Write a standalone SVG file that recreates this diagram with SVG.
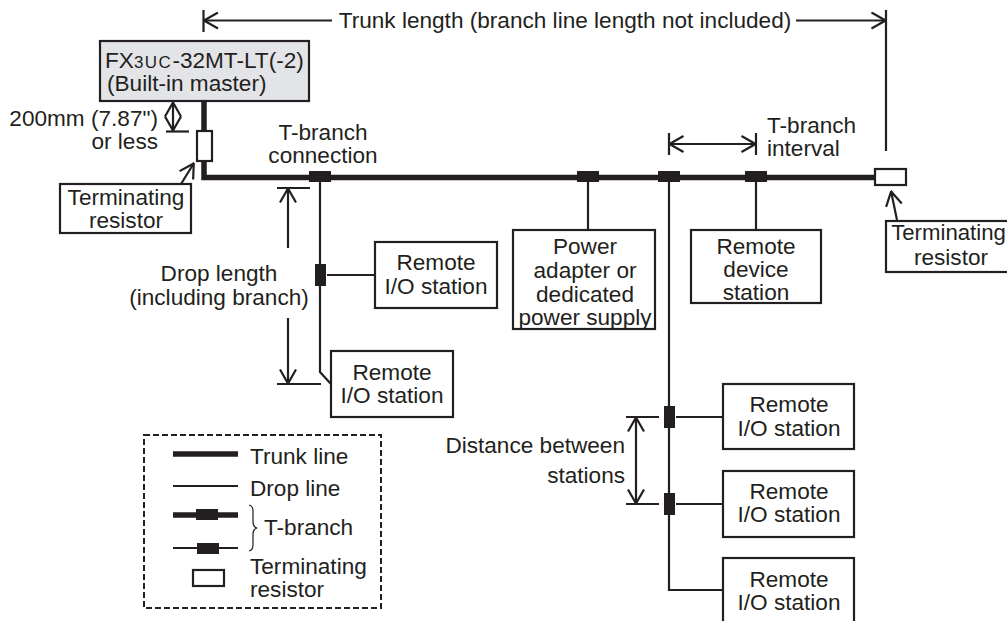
<svg xmlns="http://www.w3.org/2000/svg" width="1007" height="621" viewBox="0 0 1007 621">
<style>
text{font-family:"Liberation Sans",Arial,sans-serif;font-size:22.6px;fill:#231f20;text-anchor:middle}
.s{text-anchor:start}
.e{text-anchor:end}
.box{fill:#fff;stroke:#231f20;stroke-width:2.2}
.l{fill:none;stroke:#231f20;stroke-width:2.2}
.d{fill:none;stroke:#231f20;stroke-width:2.2}
.t{fill:none;stroke:#231f20;stroke-width:5.5}
.tee{fill:#231f20}
</style>
<defs>
<marker id="a" viewBox="0 0 16 18" refX="15.500" refY="9" markerWidth="16" markerHeight="18" markerUnits="userSpaceOnUse" orient="auto-start-reverse"><path d="M1 1L15 9L1 17" fill="none" stroke="#231f20" stroke-width="2.200"/></marker>
</defs>
<g id="connectors">
<path class="t" d="M204 101V131M204 161V177.500H876"/>
<path class="l" d="M320 177V372L331 384M327 275H375M588 177V230M756 177V230M669 177V590H723M676 417H723M676 504H723"/>
<rect class="tee" x="309" y="171" width="22" height="11"/>
<rect class="tee" x="577" y="171" width="22" height="11"/>
<rect class="tee" x="658" y="171" width="22" height="11"/>
<rect class="tee" x="745" y="171" width="22" height="11"/>
<rect class="tee" x="315" y="264" width="11" height="22"/>
<rect class="tee" x="664" y="406" width="11" height="22"/>
<rect class="tee" x="664" y="493" width="11" height="22"/>
<path class="d" marker-start="url(#a)" d="M203.500 20.500H332"/>
<path class="d" marker-end="url(#a)" d="M796 20.500H886"/>
<path class="d" d="M203.500 10V32M886 10V151"/>
<path class="d" marker-start="url(#a)" marker-end="url(#a)" d="M669 144H756"/>
<path class="d" d="M669 133V155M756 133V155"/>
<path class="d" marker-start="url(#a)" marker-end="url(#a)" d="M173 102V131"/>
<path class="d" d="M166 131.500H189"/>
<path class="d" marker-end="url(#a)" d="M181 184L194 163"/>
<path class="d" marker-end="url(#a)" d="M897 220L891 191"/>
<path class="d" marker-start="url(#a)" d="M288 188V248"/>
<path class="d" marker-end="url(#a)" d="M288 318V384"/>
<path class="d" d="M277 188H310M277 384H321"/>
<path class="d" marker-start="url(#a)" marker-end="url(#a)" d="M636 417V504"/>
<path class="d" d="M626 417H659M626 504H659"/>
</g>
<g id="master"><rect x="100" y="41" width="209" height="60" fill="#e3e4e8" stroke="#231f20" stroke-width="2.200"/>
<text class="s" x="105" y="68">FX<tspan font-size="17" letter-spacing="1.500">3UC</tspan>-32MT-LT(-2)</text><text class="s" x="107" y="91">(Built-in master)</text></g>
<g id="resistor-left"><rect class="box" x="197" y="131" width="15" height="30"/></g>
<g id="resistor-right"><rect class="box" x="875" y="169" width="31" height="16"/></g>
<g id="term-left"><rect class="box" x="60" y="184" width="131" height="49"/><text x="126" y="205">Terminating</text><text x="126" y="228">resistor</text></g>
<g id="term-right"><rect class="box" x="886" y="221" width="130" height="51"/><text x="948.500" y="240" style="font-size:22.2px">Terminating</text><text x="951" y="265">resistor</text></g>
<g id="io1"><rect class="box" x="375" y="242" width="122" height="66"/><text x="436" y="270">Remote</text><text x="436" y="294">I/O station</text></g>
<g id="io2"><rect class="box" x="331" y="351" width="122" height="66"/><text x="392" y="380">Remote</text><text x="392" y="403">I/O station</text></g>
<g id="power"><rect class="box" x="513" y="230" width="142" height="99"/><text x="585" y="254">Power</text><text x="585" y="278">adapter or</text><text x="585" y="302">dedicated</text><text x="585" y="325">power supply</text></g>
<g id="device"><rect class="box" x="691" y="230" width="130" height="73"/><text x="756" y="254">Remote</text><text x="756" y="277">device</text><text x="756" y="300">station</text></g>
<g id="io3"><rect class="box" x="723" y="384" width="131" height="65"/><text x="789" y="412">Remote</text><text x="789" y="436">I/O station</text></g>
<g id="io4"><rect class="box" x="723" y="471" width="131" height="66"/><text x="789" y="499">Remote</text><text x="789" y="522">I/O station</text></g>
<g id="io5"><rect class="box" x="723" y="558" width="131" height="70"/><text x="789" y="587">Remote</text><text x="789" y="610">I/O station</text></g>
<g id="labels">
<text x="565" y="28">Trunk length (branch line length not included)</text>
<text class="e" x="158" y="126">200mm (7.87")</text><text class="e" x="158" y="149">or less</text>
<text x="323" y="140">T-branch</text><text x="323" y="163">connection</text>
<text class="s" x="767" y="133">T-branch</text><text class="s" x="767" y="156">interval</text>
<text x="219" y="281">Drop length</text><text x="219" y="305">(including branch)</text>
<text class="e" x="625" y="453">Distance between</text><text class="e" x="625" y="483">stations</text>
</g>
<g id="legend">
<rect x="144" y="435" width="237" height="173" fill="none" stroke="#231f20" stroke-width="2" stroke-dasharray="6 3"/>
<path class="t" d="M173 454H238M173 515H238"/>
<path class="l" d="M173 486H238M173 548H238"/>
<rect class="tee" x="196" y="509" width="22" height="11"/>
<rect class="tee" x="197" y="543" width="22" height="11"/>
<rect class="box" x="193" y="570" width="31" height="16"/>
<path fill="none" stroke="#231f20" stroke-width="1.200" d="M249 505Q253 506 253 511V522Q253 527 257 528Q253 529 253 534V545Q253 550 249 551"/>
<text class="s" x="250" y="464">Trunk line</text>
<text class="s" x="250" y="496">Drop line</text>
<text class="s" x="264" y="535">T-branch</text>
<text class="s" x="250" y="574">Terminating</text>
<text class="s" x="250" y="597">resistor</text>
</g>
</svg>
